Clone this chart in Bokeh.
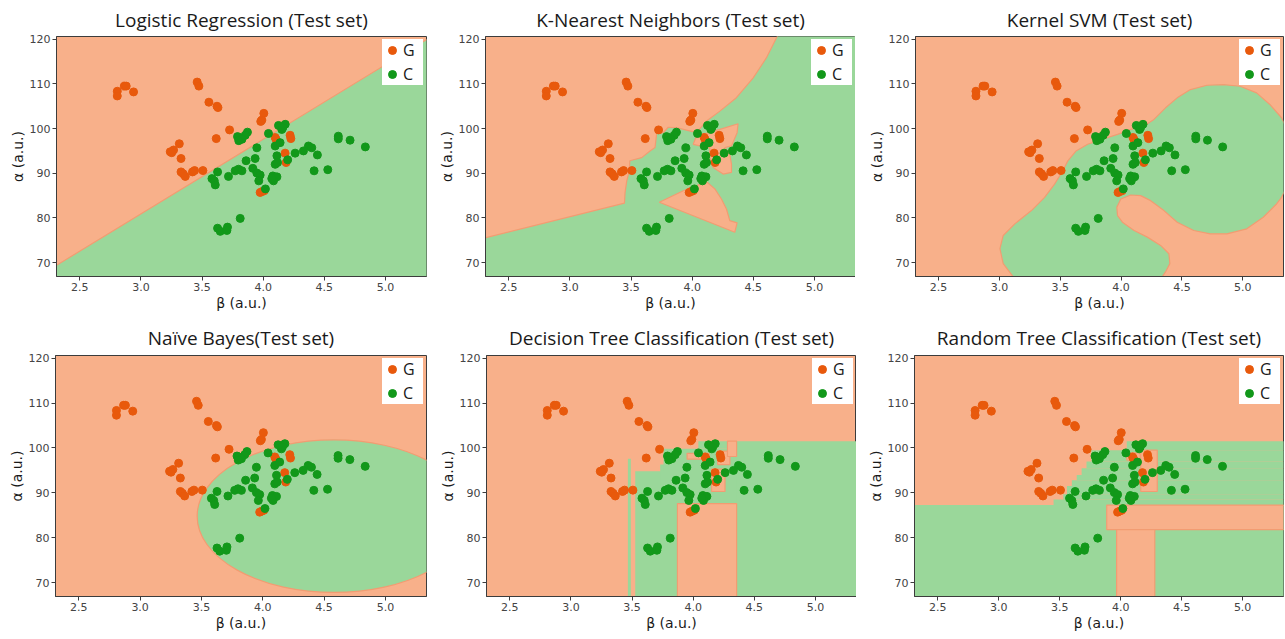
from bokeh.plotting import figure
from bokeh.layouts import row, column
from bokeh.models import FixedTicker, PrintfTickFormatter
from bokeh.embed import file_html
from bokeh.resources import INLINE

# ---------------- data ----------------
titles = ["Logistic Regression (Test set)", "K-Nearest Neighbors (Test set)", "Kernel SVM (Test set)",
          "Naïve Bayes(Test set)", "Decision Tree Classification (Test set)", "Random Tree Classification (Test set)"]
x_ticks = [2.5, 3.0, 3.5, 4.0, 4.5, 5.0]
y_ticks = [70, 80, 90, 100, 110, 120]

g_beta = [2.807, 2.807, 2.865, 2.88, 2.94, 3.46, 3.474, 3.556, 3.622, 3.63, 4.005, 3.989, 3.98,
          3.725, 3.616, 3.314, 3.267, 3.24, 3.252, 3.328, 3.328, 3.345, 3.363, 3.422, 3.439, 3.507,
          4.098, 4.105, 4.22, 4.226, 4.179, 4.187, 3.975, 3.99, 4.008]
g_alpha = [108.35, 107.3, 109.5, 109.5, 108.2, 110.4, 109.5, 105.9, 105.0, 104.7, 103.4, 101.9, 101.6,
           99.7, 97.75, 96.6, 95.2, 94.8, 94.6, 93.3, 90.3, 89.9, 89.3, 90.3, 90.6, 90.6,
           98.0, 97.6, 98.5, 97.75, 94.5, 92.4, 85.7, 85.9, 86.1]

c_beta = [4.125, 4.18, 4.152, 4.16, 4.043, 3.871, 3.853, 3.806, 3.79, 3.826, 3.80, 4.098, 4.138, 3.948,
          4.37, 4.397, 4.329, 4.443, 4.261, 4.614, 4.614, 4.71, 4.835, 4.112, 4.098, 4.117, 4.2, 3.934,
          3.86, 3.915, 3.948, 3.975, 3.964, 4.079, 4.112, 4.084, 4.07, 3.798, 3.771, 3.826, 3.716, 3.627,
          3.581, 3.6, 3.608, 4.018, 3.812, 3.627, 3.649, 3.708, 3.703, 4.416, 4.528]
c_alpha = [100.7, 100.95, 99.8, 100.2, 98.9, 99.2, 98.5, 97.97, 98.2, 97.6, 97.3, 96.1, 96.85, 95.7,
           96.1, 95.7, 95.0, 94.1, 94.5, 98.3, 97.7, 97.4, 95.9, 93.9, 92.0, 92.4, 93.0, 93.3,
           92.8, 91.1, 90.05, 89.6, 88.3, 89.4, 89.2, 88.3, 88.8, 90.9, 90.55, 90.55, 89.3, 90.3,
           88.8, 88.3, 87.4, 86.5, 79.9, 77.7, 77.0, 77.95, 77.2, 90.55, 90.8]

# Logistic regression: green (class C) region polygon
lr_green_x = [2.2, 5.5, 5.5, 2.2]
lr_green_y = [67.56, 122.64, 60.0, 60.0]

# KNN: green region + orange islands
knn_green_x = [2.2, 3.446, 3.451, 3.465, 3.486, 3.49, 3.587, 3.655, 3.696, 3.71, 3.764, 3.804, 3.872,
               4.035, 4.117, 4.226, 4.361, 4.497, 4.606, 4.72, 5.5, 5.5, 2.2]
knn_green_y = [74.8, 83.3, 85.7, 88.3, 90.6, 92.8, 93.5, 95.0, 95.75, 99.0, 99.1, 100.3, 100.2,
               99.1, 101.7, 103.9, 106.9, 111.3, 115.8, 122.0, 122.0, 60.0, 60.0]
knn_isl1_x = [3.731, 3.927, 4.117, 4.185, 4.239, 4.28, 4.307, 4.367, 4.348]
knn_isl1_y = [83.5, 86.1, 88.1, 86.5, 84.25, 82.0, 79.4, 78.9, 76.8]
knn_isl2_x = [4.008, 4.035, 4.226, 4.375, 4.367, 4.321, 4.266, 4.307, 4.321, 4.321, 4.253, 4.171,
              4.144, 4.144, 4.09]
knn_isl2_y = [96.48, 98.34, 99.82, 101.08, 99.08, 96.11, 95.74, 94.26, 92.03, 90.18, 89.81, 91.29,
              93.52, 95.74, 95.96]

# Kernel SVM: green region
svm_green_x = [3.15, 3.031, 3.004, 3.031, 3.126, 3.263, 3.371, 3.453, 3.521, 3.562, 3.630, 3.725,
               3.848, 3.971, 4.080, 4.188, 4.270, 4.365, 4.461, 4.570, 4.706, 4.842, 4.978, 5.114,
               5.223, 5.319, 5.414, 5.414, 5.319, 5.278, 5.169, 5.033, 4.869, 4.733, 4.597, 4.461,
               4.352, 4.243, 4.161, 4.080, 3.998, 3.965, 3.971, 4.011, 4.107, 4.216, 4.325, 4.393,
               4.401, 4.365, 4.311, 4.30, 3.15]
svm_green_y = [65.5, 69.78, 73.12, 76.08, 78.68, 81.65, 84.61, 87.58, 90.55, 92.77, 95.0, 96.48,
               97.6, 98.71, 99.82, 100.56, 102.05, 104.64, 106.87, 108.72, 109.69, 109.84, 109.47,
               107.98, 105.39, 102.42, 97.2, 89.8, 84.61, 83.13, 80.16, 77.57, 76.45, 76.45, 77.2,
               79.05, 81.65, 83.87, 84.99, 85.13, 84.24, 82.39, 80.53, 79.05, 77.2, 75.71, 73.86,
               72.0, 69.78, 67.92, 65.7, 60.0, 60.0]

# Naive Bayes: elliptical green region
nb_center_x = [4.58]
nb_center_y = [84.8]
nb_width = [2.23]
nb_height = [34.0]

# Decision tree: green boxes, orange boxes on top
dt_green_left = [3.466, 3.526, 3.73, 3.757, 4.042, 4.355]
dt_green_right = [3.49, 3.871, 4.36, 4.36, 4.28, 5.5]
dt_green_bottom = [60.0, 60.0, 87.6, 94.8, 99.8, 60.0]
dt_green_top = [97.6, 94.8, 96.3, 99.8, 101.5, 101.5]
dt_orange_left = [3.871, 3.95, 4.2, 4.15, 4.28]
dt_orange_right = [4.355, 4.13, 4.3, 4.26, 4.355]
dt_orange_bottom = [60.0, 97.5, 96.3, 90.3, 98.1]
dt_orange_top = [87.6, 98.8, 99.3, 95.3, 101.5]

# Random forest: green boxes, orange boxes on top
rf_green_left = [2.2, 3.45, 3.53, 3.56, 3.60, 3.64, 3.68, 3.72, 3.76, 4.05]
rf_green_right = [5.5, 5.5, 5.5, 5.5, 5.5, 5.5, 5.5, 5.5, 5.5, 5.5]
rf_green_bottom = [60.0, 87.27, 88.5, 89.7, 91.5, 92.8, 94.0, 95.5, 97.0, 99.5]
rf_green_top = [87.27, 88.5, 89.7, 91.5, 92.8, 94.0, 95.5, 97.0, 99.5, 101.5]
rf_orange_left = [3.886, 3.967, 4.165, 4.05]
rf_orange_right = [5.5, 4.28, 4.30, 4.16]
rf_orange_bottom = [81.8, 60.0, 90.3, 97.3]
rf_orange_top = [87.27, 81.8, 99.5, 98.9]

# ---------------- style ----------------
ORANGE_BG = "#F8B08A"
GREEN_BG = "#9AD79A"
EDGE = "#F29C72"
G_COL = "#E8590C"
C_COL = "#12981A"
X_RANGE = (2.31, 5.335)
Y_RANGE = (66.9, 120.6)


def make_fig(title, width, height, left, right, top, bottom, standoff):
    p = figure(width=width, height=height, x_range=X_RANGE, y_range=Y_RANGE,
               output_backend="svg", toolbar_location=None,
               min_border_left=left, min_border_right=right,
               min_border_top=top, min_border_bottom=bottom)
    p.background_fill_color = ORANGE_BG
    p.border_fill_color = "white"
    p.grid.visible = False
    p.outline_line_color = "#3c3c3c"
    p.outline_line_width = 1
    p.title.text = title
    p.title.align = "center"
    p.title.text_font = "Open Sans"
    p.title.text_font_size = "19px"
    p.title.text_font_style = "normal"
    p.title.text_color = "#1a1a1a"
    p.title.standoff = standoff
    p.xaxis.ticker = FixedTicker(ticks=x_ticks)
    p.xaxis.formatter = PrintfTickFormatter(format="%.1f")
    p.yaxis.ticker = FixedTicker(ticks=y_ticks)
    p.xaxis.axis_label = "β (a.u.)"
    p.yaxis.axis_label = "α (a.u.)"
    for ax in (p.xaxis[0], p.yaxis[0]):
        ax.axis_label_text_font = "DejaVu Sans"
        ax.axis_label_text_font_size = "14px"
        ax.axis_label_text_font_style = "normal"
        ax.axis_label_text_color = "#1a1a1a"
        ax.axis_label_standoff = 1
        ax.major_label_text_font = "DejaVu Sans"
        ax.major_label_text_font_size = "11px"
        ax.major_label_text_color = "#444444"
        ax.major_label_standoff = 2
        ax.major_tick_out = 4
        ax.major_tick_in = 0
        ax.minor_tick_line_color = None
        ax.axis_line_color = "#3c3c3c"
        ax.major_tick_line_color = "#3c3c3c"
    return p


def add_points(p):
    p.scatter(g_beta, g_alpha, size=8, color=G_COL, legend_label="G")
    p.scatter(c_beta, c_alpha, size=8, color=C_COL, legend_label="C")
    lg = p.legend[0]
    lg.location = "top_right"
    lg.margin = 3
    lg.padding = 2
    lg.spacing = 2
    lg.glyph_width = 20
    lg.glyph_height = 20
    lg.label_height = 20
    lg.label_standoff = 1
    lg.label_text_font = "Open Sans"
    lg.label_text_font_size = "16px"
    lg.label_text_color = "#1a1a1a"
    lg.border_line_color = None
    lg.background_fill_color = "white"
    lg.background_fill_alpha = 1.0


TOP_H, BOT_H = 314, 325

# top row
p1 = make_fig(titles[0], 430, TOP_H, 56, 4, 35, 38, 8)
p1.patch(lr_green_x, lr_green_y, fill_color=GREEN_BG, line_color=EDGE, line_width=1.2)
add_points(p1)

p2 = make_fig(titles[1], 425, TOP_H, 55, 0, 35, 38, 8)
p2.patch(knn_green_x, knn_green_y, fill_color=GREEN_BG, line_color=EDGE, line_width=1.2)
p2.patches([knn_isl1_x, knn_isl2_x], [knn_isl1_y, knn_isl2_y], fill_color=ORANGE_BG,
           line_color=EDGE, line_width=1.2)
add_points(p2)

p3 = make_fig(titles[2], 430, TOP_H, 60, 2, 35, 38, 8)
p3.patch(svm_green_x, svm_green_y, fill_color=GREEN_BG, line_color=EDGE, line_width=1.2)
add_points(p3)

# bottom row
p4 = make_fig(titles[3], 430, BOT_H, 55, 4, 41, 43, 10)
p4.ellipse(x=nb_center_x, y=nb_center_y, width=nb_width, height=nb_height,
           fill_color=GREEN_BG, line_color=EDGE, line_width=1.2)
add_points(p4)

p5 = make_fig(titles[4], 426, BOT_H, 56, 0, 41, 43, 10)
p5.quad(left=dt_green_left, right=dt_green_right, bottom=dt_green_bottom, top=dt_green_top,
        fill_color=GREEN_BG, line_color=None)
p5.quad(left=dt_orange_left, right=dt_orange_right, bottom=dt_orange_bottom, top=dt_orange_top,
        fill_color=ORANGE_BG, line_color=EDGE, line_width=1.2)
add_points(p5)

p6 = make_fig(titles[5], 429, BOT_H, 58, 2, 41, 43, 10)
p6.quad(left=rf_green_left, right=rf_green_right, bottom=rf_green_bottom, top=rf_green_top,
        fill_color=GREEN_BG, line_color=None)
p6.quad(left=rf_orange_left, right=rf_orange_right, bottom=rf_orange_bottom, top=rf_orange_top,
        fill_color=ORANGE_BG, line_color=EDGE, line_width=1.2)
add_points(p6)

layout = column(row(p1, p2, p3), row(p4, p5, p6))
open("out.html", "w").write(file_html(layout, INLINE))
